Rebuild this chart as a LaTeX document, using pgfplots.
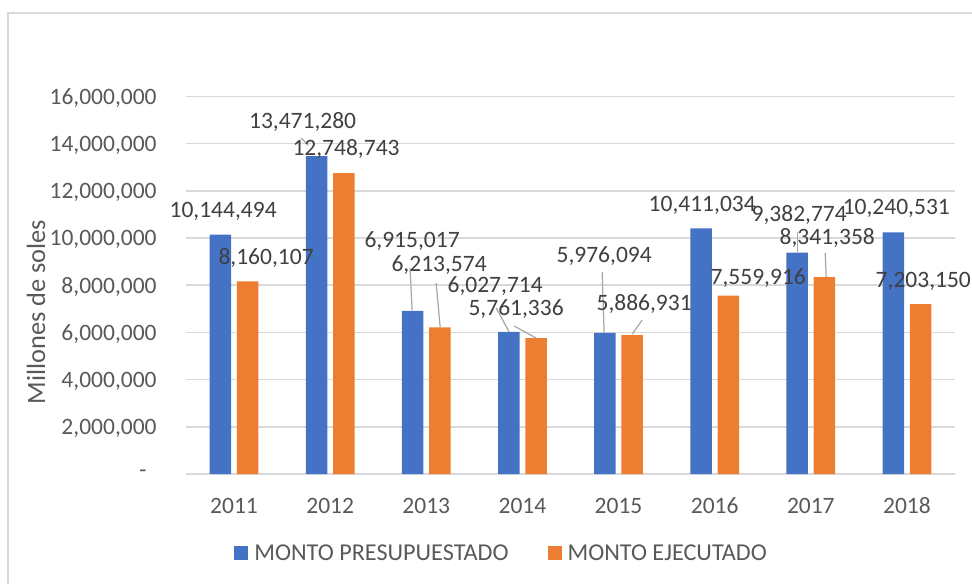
\documentclass[border=0pt]{standalone}
\usepackage{fontspec}
\setmainfont{Carlito}
\usepackage{pgfplots}
\pgfplotsset{compat=1.18}
\definecolor{xlblue}{RGB}{68,114,196}
\definecolor{xlorange}{RGB}{237,125,49}
\definecolor{gridgray}{RGB}{217,217,217}
\definecolor{ticktext}{RGB}{89,89,89}
\definecolor{lbltext}{RGB}{64,64,64}
\definecolor{leader}{RGB}{166,166,166}
\tikzset{
  dl/.style={font=\fontsize{11.75}{14}\selectfont, inner sep=0pt, text depth=0pt, text=lbltext},
  ld/.style={draw=leader, line width=0.6pt},
}
\pgfplotsset{
  sq legend/.style={legend image code/.code={\fill[#1] (0pt,-3.5pt) rectangle (7pt,3.5pt);}},
}

\begin{document}
\begin{tikzpicture}
\useasboundingbox (0,0) rectangle (486pt,291.5pt);
% outer chart frame
\draw[gridgray, line width=0.75pt] (4pt,-20pt) rectangle (520pt,285pt);
\begin{axis}[
    at={(93pt,54.5pt)}, anchor=south west,
    scale only axis, width=384.5pt, height=188.75pt,
    clip=false,
    xmin=-0.5, xmax=7.5, ymin=0, ymax=16000000,
    scaled y ticks=false,
    xtick={0,1,2,3,4,5,6,7},
    xticklabels={2011,2012,2013,2014,2015,2016,2017,2018},
    ytick={0,2000000,4000000,6000000,8000000,10000000,12000000,14000000,16000000},
    yticklabels={{-\kern5pt},{2,000,000},{4,000,000},{6,000,000},{8,000,000},{10,000,000},{12,000,000},{14,000,000},{16,000,000}},
    axis line style={draw=none},
    tick style={draw=none},
    ymajorgrids, grid style={gridgray, line width=0.75pt},
    ticklabel style={font=\fontsize{11.75}{14}\selectfont, text=ticktext, inner sep=0pt, text depth=0pt},
    yticklabel style={anchor=east},
    yticklabel shift=14.5pt,
    xticklabel style={anchor=base},
    xticklabel shift=19.5pt,
    ylabel={Millones de soles},
    every axis y label/.style={at={(axis description cs:-0.195,0.429)}, rotate=90, anchor=center,
      font=\fontsize{13.2}{15}\selectfont, text=ticktext},
    legend style={at={(axis description cs:0.0624,-0.209)}, anchor=west, draw=none, fill=none,
      inner sep=0pt, legend columns=2, font=\fontsize{12.1}{14}\selectfont, text=ticktext,
      /tikz/every even column/.append style={column sep=16.5pt},
      nodes={inner xsep=3pt, inner ysep=0pt, text depth=0pt}},
  ]
  \addplot[ybar, bar width=0.224, bar shift=-0.142, fill=xlblue, draw=none, sq legend=xlblue]
    coordinates {(0,10144494) (1,13471280) (2,6915017) (3,6027714)
                 (4,5976094) (5,10411034) (6,9382774) (7,10240531)};
  \addlegendentry{MONTO PRESUPUESTADO}
  \addplot[ybar, bar width=0.224, bar shift=0.142, fill=xlorange, draw=none, sq legend=xlorange]
    coordinates {(0,8160107) (1,12748743) (2,6213574) (3,5761336)
                 (4,5886931) (5,7559916) (6,8341358) (7,7203150)};
  \addlegendentry{MONTO EJECUTADO}

  % leader lines
  \draw[ld] (axis cs:0.700,14240000) -- (axis cs:0.770,13940000);
  \draw[ld] (axis cs:1.831,8730000) -- (axis cs:1.852,6950000);
  \draw[ld] (axis cs:2.102,8100000) -- (axis cs:2.144,6230000);
  \draw[ld] (axis cs:2.726,7040000) -- (axis cs:2.862,6020000);
  \draw[ld] (axis cs:2.914,6270000) -- (axis cs:3.143,5760000);
  \draw[ld] (axis cs:3.829,8560000) -- (axis cs:3.850,5980000);
  \draw[ld] (axis cs:4.246,6530000) -- (axis cs:4.142,5930000);
  \draw[ld] (axis cs:5.858,10260000) -- (axis cs:5.858,9410000);
  \draw[ld] (axis cs:6.150,9370000) -- (axis cs:6.160,8350000);

  % data labels
  \node[dl] at (axis cs:-0.114,11190000) {10,144,494};
  \node[dl] at (axis cs:0.333,9240000) {8,160,107};
  \node[dl] at (axis cs:0.713,15000000) {13,471,280};
  \node[dl] at (axis cs:1.165,13820000) {12,748,743};
  \node[dl] at (axis cs:1.852,9920000) {6,915,017};
  \node[dl] at (axis cs:2.133,8940000) {6,213,574};
  \node[dl] at (axis cs:2.716,8010000) {6,027,714};
  \node[dl] at (axis cs:2.934,7040000) {5,761,336};
  \node[dl] at (axis cs:3.850,9280000) {5,976,094};
  \node[dl] at (axis cs:4.266,7290000) {5,886,931};
  \node[dl] at (axis cs:4.870,11440000) {10,411,034};
  \node[dl] at (axis cs:5.453,8350000) {7,559,916};
  \node[dl] at (axis cs:5.879,11060000) {9,382,774};
  \node[dl] at (axis cs:6.171,10050000) {8,341,358};
  \node[dl] at (axis cs:6.889,11320000) {10,240,531};
  \node[dl] at (axis cs:7.170,8220000) {7,203,150};
\end{axis}
\end{tikzpicture}
\end{document}
